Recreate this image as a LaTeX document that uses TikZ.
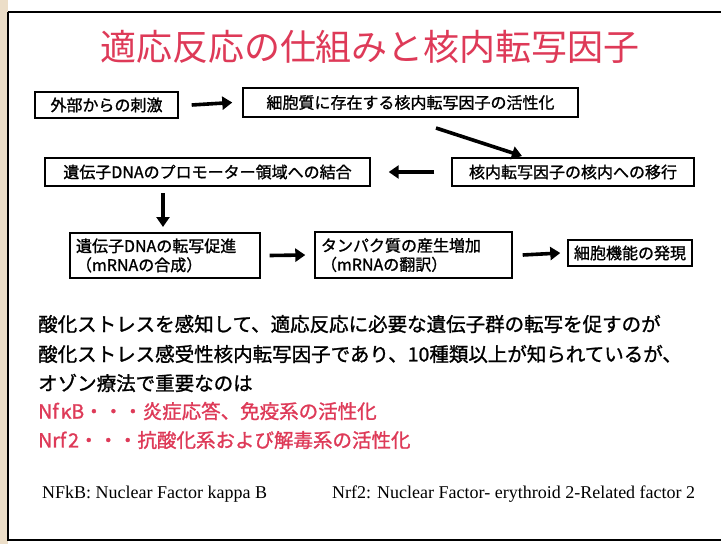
\documentclass[tikz,border=0pt]{standalone}
\usepackage{fontspec}
\setmainfont{Liberation Serif}
\newfontfamily\jp{Noto Sans CJK JP}
\newfontfamily\jpm{Noto Sans CJK JP}[FakeBold=1.2]
\usetikzlibrary{arrows.meta}
\definecolor{titlered}{RGB}{222,58,88}
\definecolor{paper}{RGB}{236,222,200}
\begin{document}
\begin{tikzpicture}[x=1pt,y=-1pt,
  box/.style={draw=black,line width=1.4pt,inner sep=0pt,font=\jpm\fontsize{16}{19}\selectfont,align=left},
  flow/.style={line width=3.6pt,-{Triangle[length=10pt,width=13pt]}},
  body/.style={anchor=west,inner sep=0pt,font=\jpm\fontsize{19.5}{22}\selectfont},
  note/.style={anchor=west,inner sep=0pt,font=\fontsize{18}{21}\selectfont}]
\useasboundingbox (0,0) rectangle (721,544);
\fill[white] (0,0) rectangle (721,544);
\fill[paper] (0,0) rectangle (8,544);
\draw[line width=1.6pt] (8,12) -- (724,12) (8,12) -- (8,540) -- (724,540);
\node[titlered,inner sep=0pt,font=\jp\fontsize{36}{40}\selectfont] (title) at (370,47) {適応反応の仕組みと核内転写因子};
\node[box,minimum width=143pt,minimum height=26pt] (b1) at (106.5,105) {外部からの刺激};
\node[box,minimum width=335pt,minimum height=29pt] (b2) at (410.5,102.5) {細胞質に存在する核内転写因子の活性化};
\node[box,minimum width=242pt,minimum height=28pt] (b3) at (573,172) {核内転写因子の核内への移行};
\node[box,minimum width=325pt,minimum height=28pt] (b4) at (207.5,172) {遺伝子DNAのプロモーター領域への結合};
\node[box,minimum width=190pt,minimum height=45pt,text width=178pt] (b5) at (165,255.5) {遺伝子DNAの転写促進\\（mRNAの合成）};
\node[box,minimum width=197pt,minimum height=46pt,text width=185pt] (b6) at (413.5,255) {タンパク質の産生増加\\（mRNAの翻訳）};
\node[box,minimum width=124pt,minimum height=26pt] (b7) at (630,253) {細胞機能の発現};
\coordinate (d1) at (163,193);
\coordinate (d2) at (163,227);
\coordinate (s1) at (436,128);
\coordinate (s2) at (522,156);
\draw[flow] ([xshift=13pt]b1.east) -- ([xshift=-10pt]b2.west);
\draw[flow] (s1) -- (s2);
\draw[flow] ([xshift=-17pt]b3.west) -- ([xshift=18pt]b4.east);
\draw[flow] (d1) -- (d2);
\draw[flow] ([xshift=9pt]b5.east) -- ([xshift=-9pt]b6.west);
\draw[flow] ([xshift=10pt]b6.east) -- ([xshift=-7pt]b7.west);
\node[body] (t1) at (38,324) {酸化ストレスを感知して、適応反応に必要な遺伝子群の転写を促すのが};
\node[body] (t2) at (38,354) {酸化ストレス感受性核内転写因子であり、10種類以上が知られているが、};
\node[body] (t3) at (38,383) {オゾン療法で重要なのは};
\node[body,titlered] (t4) at (38,411) {Nf\kern2pt κB・・・炎症応答、免疫系の活性化};
\node[body,titlered] (t5) at (38,440) {Nrf\kern2pt 2・・・抗酸化系および解毒系の活性化};
\node[note] (n1) at (42,494) {NFkB: Nuclear Factor kappa B};
\node[note] (n2) at (332,494) {Nrf2: Nuclear Factor- erythroid 2-Related factor 2};
\end{tikzpicture}
\end{document}
